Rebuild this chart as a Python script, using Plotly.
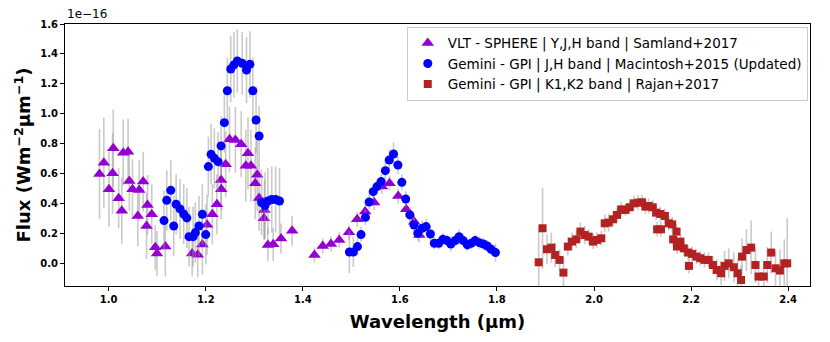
import plotly.graph_objects as go

# VLT - SPHERE (Samland+2017), flux in units of 1e-16
sphere_wl = [0.981, 0.990, 1.0006, 1.008, 1.0095, 1.0206, 1.027, 1.030, 1.040, 1.0425,
             1.049, 1.060, 1.063, 1.071, 1.078, 1.080, 1.0887, 1.096, 1.0996, 1.1167,
             1.172, 1.1835, 1.193, 1.2027, 1.2136, 1.223, 1.2315, 1.232, 1.241, 1.249,
             1.261, 1.273, 1.2825, 1.287, 1.293, 1.302, 1.306, 1.310, 1.320, 1.321,
             1.328, 1.339, 1.355, 1.378, 1.424, 1.441, 1.458, 1.475, 1.495, 1.512,
             1.5285, 1.547, 1.563, 1.5786, 1.5965, 1.613, 1.6295, 1.640]
sphere_flux = [0.60, 0.675, 0.498, 0.604, 0.771, 0.438, 0.355, 0.742, 0.749, 0.553,
               0.498, 0.32, 0.493, 0.549, 0.253, 0.393, 0.331, 0.111, 0.069, 0.116,
               0.069, 0.062, 0.129, 0.262, 0.331, 0.398, 0.56, 0.498, 0.665, 0.831,
               0.827, 0.798, 0.655, 0.738, 0.655, 0.538, 0.595, 0.44, 0.304, 0.36,
               0.127, 0.131, 0.169, 0.222, 0.06, 0.12, 0.133, 0.16, 0.211, 0.298,
               0.349, 0.409, 0.516, 0.538, 0.453, 0.364, 0.282, 0.193]
sphere_err = [0.30, 0.30, 0.25, 0.27, 0.26, 0.20, 0.22, 0.22, 0.22, 0.20,
              0.20, 0.20, 0.20, 0.20, 0.22, 0.20, 0.20, 0.15, 0.15, 0.20,
              0.15, 0.15, 0.20, 0.20, 0.20, 0.20, 0.20, 0.20, 0.22, 0.22,
              0.22, 0.22, 0.24, 0.24, 0.24, 0.24, 0.24, 0.22, 0.14, 0.20,
              0.11, 0.11, 0.10, 0.10, 0.05, 0.05, 0.05, 0.05, 0.05, 0.05,
              0.05, 0.05, 0.05, 0.05, 0.05, 0.05, 0.05, 0.05]

# Gemini - GPI J,H (Macintosh+2015 updated)
gpi_jh_wl = [1.114, 1.1196, 1.128, 1.134, 1.139, 1.147, 1.1546, 1.161, 1.1656, 1.174,
             1.1786, 1.186, 1.193, 1.200, 1.2054, 1.211, 1.2177, 1.2254, 1.2315, 1.2384,
             1.2445, 1.2515, 1.258, 1.265, 1.275, 1.284, 1.291, 1.297, 1.3037, 1.31,
             1.315, 1.322, 1.328, 1.336, 1.344, 1.352,
             1.496, 1.504, 1.5126, 1.520, 1.529, 1.5367, 1.545, 1.553, 1.5614, 1.570,
             1.578, 1.587, 1.596, 1.604, 1.612, 1.6206, 1.629, 1.637, 1.646, 1.654,
             1.663, 1.671, 1.680, 1.6887, 1.697, 1.705, 1.714, 1.722, 1.7305, 1.739,
             1.747, 1.755, 1.7635, 1.772, 1.780, 1.788, 1.797]
gpi_jh_flux = [0.289, 0.424, 0.491, 0.253, 0.398, 0.367, 0.333, 0.307, 0.182, 0.182,
               0.209, 0.253, 0.331, 0.196, 0.649, 0.731, 0.704, 0.682, 0.787, 0.942,
               1.155, 1.30, 1.327, 1.353, 1.338, 1.293, 1.331, 1.155, 0.96, 0.853,
               0.41, 0.39, 0.42, 0.43, 0.43, 0.42,
               0.08, 0.08, 0.116, 0.196, 0.311, 0.413, 0.482, 0.516, 0.549, 0.622,
               0.693, 0.733, 0.66, 0.544, 0.433, 0.327, 0.26, 0.204, 0.238, 0.249,
               0.2, 0.138, 0.138, 0.164, 0.156, 0.133, 0.156, 0.182, 0.156, 0.127,
               0.138, 0.156, 0.142, 0.133, 0.12, 0.098, 0.076]
gpi_jh_err = [0.20, 0.20, 0.20, 0.20, 0.20, 0.20, 0.20, 0.20, 0.20, 0.20,
              0.20, 0.20, 0.20, 0.20, 0.20, 0.20, 0.20, 0.20, 0.20, 0.20,
              0.22, 0.22, 0.22, 0.21, 0.21, 0.22, 0.22, 0.22, 0.22, 0.20,
              0.22, 0.22, 0.22, 0.22, 0.22, 0.22,
              0.14, 0.10, 0.06, 0.05, 0.05, 0.05, 0.05, 0.05, 0.05, 0.06,
              0.07, 0.08, 0.06, 0.05, 0.05, 0.05, 0.05, 0.05, 0.05, 0.05,
              0.05, 0.04, 0.04, 0.04, 0.04, 0.05, 0.04, 0.05, 0.04, 0.04,
              0.04, 0.04, 0.04, 0.04, 0.04, 0.04, 0.06]

# Gemini - GPI K1,K2 (Rajan+2017)
gpi_k_wl = [1.886, 1.894, 1.903, 1.912, 1.920, 1.929, 1.937, 1.946, 1.9546, 1.9635,
            1.972, 1.9806, 1.989, 1.998, 2.006, 2.015, 2.022, 2.030, 2.039, 2.0474,
            2.056, 2.0646, 2.0734, 2.0817, 2.0907, 2.099, 2.106, 2.1126, 2.121, 2.128,
            2.13, 2.1366, 2.138, 2.146, 2.154, 2.161, 2.163, 2.170, 2.171, 2.178,
            2.185, 2.194, 2.1956, 2.202, 2.211, 2.219, 2.2275, 2.236, 2.245, 2.253,
            2.262, 2.269, 2.2775, 2.288, 2.296, 2.303, 2.305, 2.314, 2.3237, 2.3326,
            2.339, 2.3497, 2.357, 2.365, 2.374, 2.383, 2.392, 2.398]
gpi_k_flux = [0.011, 0.238, 0.098, 0.109, 0.06, 0.027, -0.058, 0.116, 0.149, 0.164,
              0.216, 0.193, 0.182, 0.149, 0.16, 0.171, 0.271, 0.276, 0.298, 0.327,
              0.364, 0.36, 0.378, 0.404, 0.409, 0.411, 0.382, 0.387, 0.378, 0.342,
              0.231, 0.333, 0.231, 0.32, 0.271, 0.264, 0.164, 0.216, 0.116, 0.149,
              0.104, 0.076, -0.013, 0.067, 0.049, 0.038, 0.027, 0.027, -0.007, -0.04,
              -0.062, -0.013, 0.004, -0.022, -0.062, -0.107, 0.049, 0.093, 0.109, -0.007,
              -0.084, -0.084, -0.007, 0.076, -0.029, -0.044, 0.004, 0.004]
gpi_k_err = [0.24, 0.27, 0.10, 0.10, 0.08, 0.07, 0.10, 0.06, 0.06, 0.06,
             0.06, 0.06, 0.05, 0.05, 0.05, 0.05, 0.06, 0.06, 0.05, 0.05,
             0.05, 0.04, 0.04, 0.05, 0.05, 0.05, 0.05, 0.05, 0.05, 0.05,
             0.05, 0.05, 0.05, 0.05, 0.05, 0.05, 0.05, 0.05, 0.05, 0.05,
             0.05, 0.05, 0.05, 0.05, 0.05, 0.05, 0.05, 0.05, 0.06, 0.07,
             0.08, 0.10, 0.10, 0.10, 0.10, 0.10, 0.12, 0.14, 0.18, 0.12,
             0.10, 0.10, 0.12, 0.14, 0.12, 0.14, 0.16, 0.30]

ERR_STYLE = dict(type="data", color="rgba(150,150,150,0.5)", thickness=1.6, width=0)

fig = go.Figure()
fig.add_trace(go.Scatter(
    x=sphere_wl, y=sphere_flux, mode="markers",
    name="VLT - SPHERE | Y,J,H band | Samland+2017",
    marker=dict(symbol="triangle-up", size=11, color="#9400D3"),
    error_y=dict(array=sphere_err, **ERR_STYLE),
))
fig.add_trace(go.Scatter(
    x=gpi_jh_wl, y=gpi_jh_flux, mode="markers",
    name="Gemini - GPI | J,H band | Macintosh+2015 (Updated)",
    marker=dict(symbol="circle", size=9, color="#0000FF"),
    error_y=dict(array=gpi_jh_err, **ERR_STYLE),
))
fig.add_trace(go.Scatter(
    x=gpi_k_wl, y=gpi_k_flux, mode="markers",
    name="Gemini - GPI | K1,K2 band | Rajan+2017",
    marker=dict(symbol="square", size=8, color="#B22222"),
    error_y=dict(array=gpi_k_err, **ERR_STYLE),
))

axis_common = dict(
    showline=True, mirror=True, linecolor="black", linewidth=1,
    ticks="outside", ticklen=4, tickcolor="black",
    showgrid=False, zeroline=False, automargin=False,
    tickfont=dict(family="DejaVu Sans", size=10, color="black", weight="bold"),
)
# page body keeps its default 8px margin, so the figure is 8px smaller
fig.update_layout(
    width=822, height=334,
    autosize=False,
    margin=dict(l=57, r=20, t=16, b=56),
    plot_bgcolor="white", paper_bgcolor="white",
    font=dict(family="DejaVu Sans", color="black"),
    xaxis=dict(
        range=[0.91, 2.445], tickvals=[1.0, 1.2, 1.4, 1.6, 1.8, 2.0, 2.2, 2.4],
        ticktext=["1.0", "1.2", "1.4", "1.6", "1.8", "2.0", "2.2", "2.4"],
        title=dict(text="Wavelength (µm)", standoff=11,
                   font=dict(family="DejaVu Sans", size=18, weight="bold")),
        **axis_common,
    ),
    yaxis=dict(
        range=[-0.147, 1.6], tickvals=[0.0, 0.2, 0.4, 0.6, 0.8, 1.0, 1.2, 1.4, 1.6],
        ticktext=["0.0", "0.2", "0.4", "0.6", "0.8", "1.0", "1.2", "1.4", "1.6"],
        title=dict(text="Flux (Wm<sup>−2</sup>µm<sup>−1</sup>)", standoff=4,
                   font=dict(family="DejaVu Sans", size=18, weight="bold")),
        **axis_common,
    ),
    legend=dict(
        x=0.997, y=0.99, xanchor="right", yanchor="top",
        bgcolor="white", bordercolor="#cccccc", borderwidth=1,
        font=dict(family="DejaVu Sans", size=13.5),
        tracegroupgap=0,
    ),
    annotations=[dict(
        text="1e−16", x=0, y=1, xref="paper", yref="paper",
        xanchor="left", yanchor="bottom", showarrow=False, yshift=1,
        font=dict(family="DejaVu Sans", size=12),
    )],
)

fig.write_html("out.html")
